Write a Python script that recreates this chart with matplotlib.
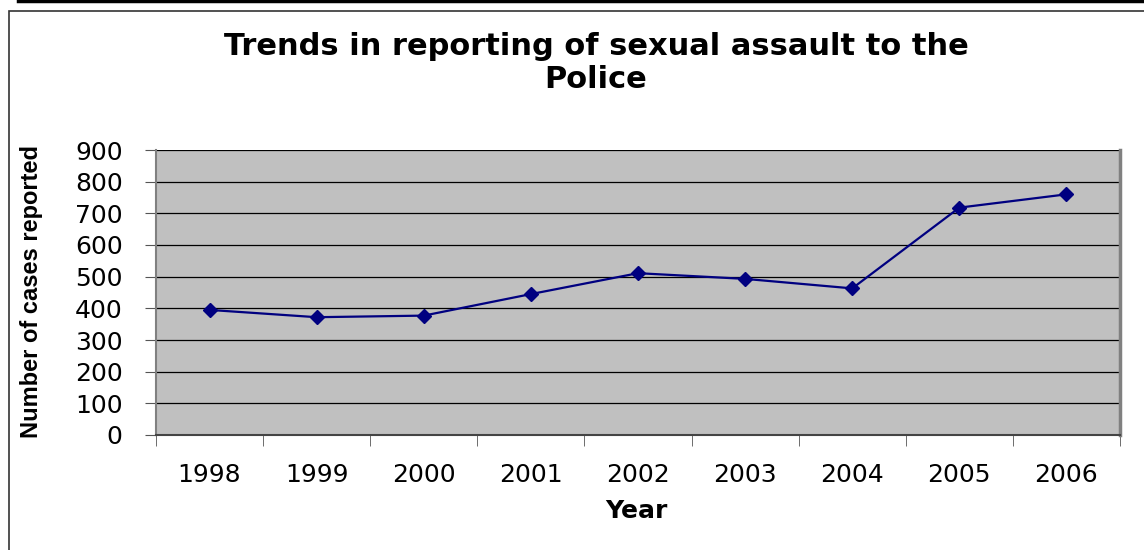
import numpy as np
import matplotlib.pyplot as plt
from matplotlib.patches import Rectangle
from matplotlib.lines import Line2D

years = ['1998', '1999', '2000', '2001', '2002', '2003', '2004', '2005', '2006']
cases = [395, 372, 377, 445, 511, 493, 463, 718, 760]
yticks = [0, 100, 200, 300, 400, 500, 600, 700, 800, 900]

W, H = 1144, 550
fig = plt.figure(figsize=(W / 100, H / 100), dpi=100)
fig.patch.set_facecolor('white')

# outer chart frame
fig.add_artist(Line2D([18 / W, 1], [1 - 1.2 / H, 1 - 1.2 / H], color='black', lw=2.5,
                      transform=fig.transFigure))
fig.add_artist(Rectangle((8.5 / W, -0.05), 1.2, 1 - 10.5 / H + 0.05, fill=False,
                         edgecolor='#333333', lw=1.2, transform=fig.transFigure))

ax = fig.add_axes([156 / W, 1 - 435 / H, (1120 - 156) / W, (435 - 150) / H])
ax.set_facecolor('#C0C0C0')

x = np.arange(len(years))
ax.plot(x, cases, color='#000080', lw=1.6, marker='D', ms=7, zorder=3)

ax.set_xlim(-0.5, len(years) - 0.5)
ax.set_ylim(0, 900)
ax.set_yticks(yticks)
ax.yaxis.grid(True, color='black', lw=0.9)
ax.set_axisbelow(True)

ax.set_xticks(x)
ax.set_xticklabels(years, fontsize=18, family='DejaVu Sans')
ax.tick_params(axis='x', which='major', length=0, pad=20)
ax.set_xticks(np.arange(-0.5, len(years)), minor=True)
ax.tick_params(axis='x', which='minor', length=8, color='#555555', direction='out')
ax.tick_params(axis='y', length=8, color='#555555', pad=16, labelsize=18)
for lab in ax.get_yticklabels():
    lab.set_family('DejaVu Sans')

for s in ['left', 'bottom', 'right']:
    ax.spines[s].set_color('#808080')
    ax.spines[s].set_linewidth(1.5)
ax.spines['bottom'].set_color('#444444')
ax.spines['top'].set_visible(False)
ax.spines['right'].set_linewidth(2.5)

fig.text(596 / W, 1 - 63 / H, 'Trends in reporting of sexual assault to the\nPolice',
         ha='center', va='center', fontsize=22, fontweight='bold', family='DejaVu Sans',
         linespacing=1.2)
fig.text(636 / W, 1 - 511 / H, 'Year', ha='center', va='center', fontsize=18,
         fontweight='bold', family='DejaVu Sans')
fig.text(32 / W, 1 - 291 / H, 'Number of cases reported', ha='center', va='center',
         rotation=90, fontsize=17, fontweight='bold', family='Liberation Sans')

fig.savefig('out.png', dpi=100)
